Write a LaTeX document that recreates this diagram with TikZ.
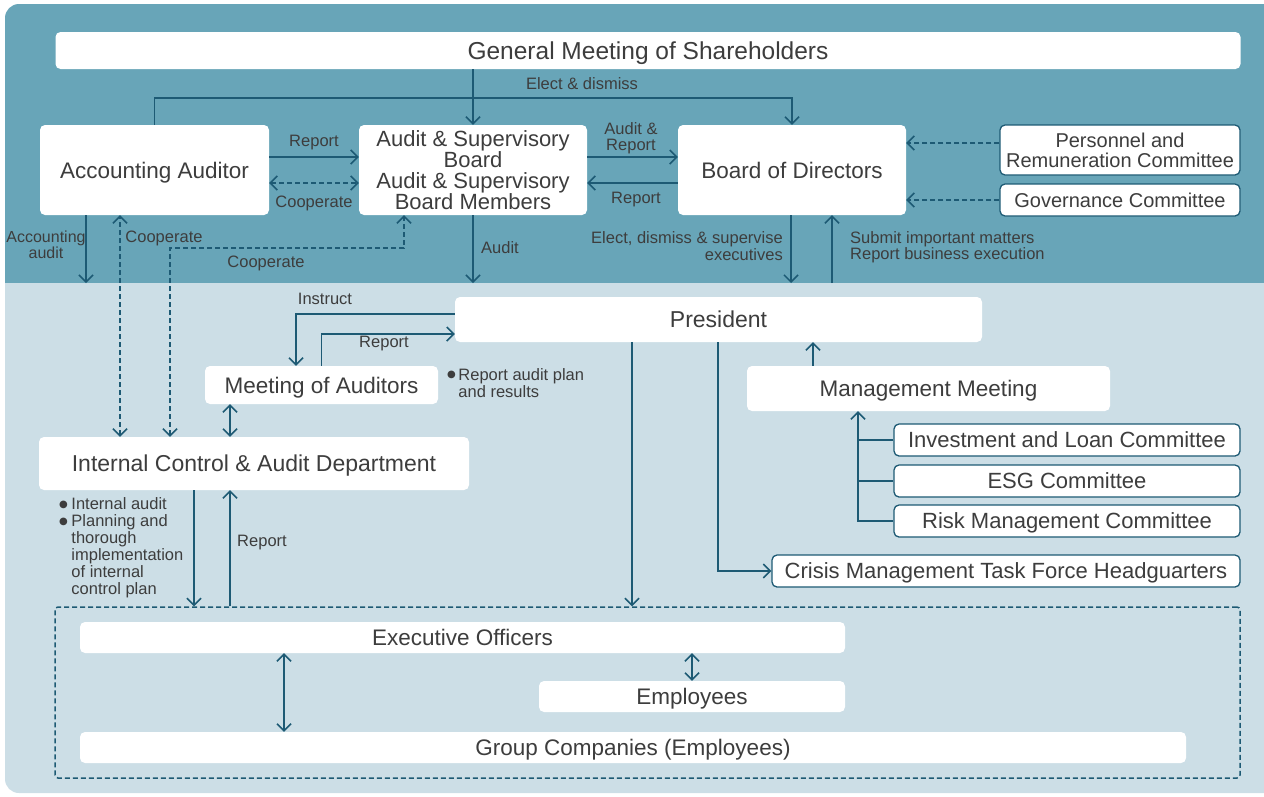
\documentclass[tikz,border=0pt]{standalone}
\usepackage{fontspec}
\setmainfont{Liberation Sans}
\newfontfamily\dejavu{DejaVu Sans}
\usetikzlibrary{arrows.meta}
\definecolor{topbg}{HTML}{68A5B8}
\definecolor{lowbg}{HTML}{CCDEE6}
\definecolor{lc}{HTML}{1D5A74}
\definecolor{tc}{HTML}{3D3D3D}
\newcommand{\bul}{\raisebox{2.5pt}{\dejavu\fontsize{10}{10}\selectfont ●}}
\begin{document}
\begin{tikzpicture}[x=1pt,y=-1pt,
  box/.style={fill=white, rounded corners=5pt, inner sep=0pt, align=center, text=tc, text depth=0pt, font=\fontsize{22.5}{20.5}\selectfont},
  cbox/.style={box, draw=lc, line width=1.3pt, font=\fontsize{22}{20.5}\selectfont},
  tcbox/.style={cbox, font=\fontsize{20}{20.5}\selectfont},
  lbl/.style={text=tc, font=\fontsize{16.5}{16.5}\selectfont, inner sep=0pt, align=center},
  ln/.style={draw=lc, line width=1.5pt},
  arr/.style={ln, -{Straight Barb[length=7pt,width=14pt]}},
  darr/.style={ln, {Straight Barb[length=7pt,width=14pt]}-{Straight Barb[length=7pt,width=14pt]}},
  dsh/.style={dash pattern=on 5pt off 3pt},
]
\useasboundingbox (0,0) rectangle (1264,796);
% backgrounds
\fill[topbg] (1264,284) -- (5,284) -- (5,18) arc[start angle=180, end angle=270, radius=14] -- (1264,4) -- cycle;
\fill[lowbg] (1264,283) -- (5,283) -- (5,779) arc[start angle=180, end angle=90, radius=14] -- (1264,793) -- cycle;

% nodes top
\node[box, minimum width=1185, minimum height=37, font=\fontsize{24.5}{24}\selectfont] (GMS) at (648,50.5) {General Meeting of Shareholders};
\node[box, minimum width=229, minimum height=90] (AA) at (154.5,170) {Accounting Auditor};
\node[box, minimum width=228, minimum height=90, font=\fontsize{22}{20.5}\selectfont] (ASB) at (473,170) {Audit \& Supervisory\\Board\\Audit \& Supervisory\\Board Members};
\node[box, minimum width=228, minimum height=90] (BoD) at (792,170) {Board of Directors};
\node[tcbox, minimum width=240, minimum height=50] (PRC) at (1120,150) {Personnel and\\Remuneration Committee};
\node[tcbox, minimum width=240, minimum height=32] (GOV) at (1120,200) {Governance Committee};

% nodes lower
\node[box, minimum width=527, minimum height=45, font=\fontsize{23}{24}\selectfont] (Pres) at (718.5,319.5) {President};
\node[box, minimum width=233, minimum height=38] (MoA) at (321.5,385) {Meeting of Auditors};
\node[box, minimum width=430, minimum height=53, font=\fontsize{23}{24}\selectfont] (ICAD) at (254,463.5) {Internal Control \& Audit Department};
\node[box, minimum width=363, minimum height=45] (MM) at (928.5,388.5) {Management Meeting};
\node[cbox, minimum width=346, minimum height=32] (ILC) at (1067,440) {Investment and Loan Committee};
\node[cbox, minimum width=346, minimum height=32] (ESG) at (1067,481) {ESG Committee};
\node[cbox, minimum width=346, minimum height=32] (RMC) at (1067,521) {Risk Management Committee};
\node[cbox, minimum width=468, minimum height=32] (CMT) at (1006,571) {Crisis Management Task Force Headguarters};
\node[draw=lc, line width=1.5pt, dsh, rounded corners=3pt, minimum width=1185, minimum height=171, inner sep=0pt] (grp) at (647.5,692.5) {};
\node[box, minimum width=765, minimum height=31] (EO) at (462.5,637.5) {Executive Officers};
\node[box, minimum width=306, minimum height=31] (EMP) at (692,696.5) {Employees};
\node[box, minimum width=1106, minimum height=31] (GC) at (633,747.5) {Group Companies (Employees)};

% helper coordinates
\coordinate (bAA) at (86,283);
\coordinate (bASB) at (473,283);
\coordinate (bBoD) at (791,283);
\coordinate (bUp) at (832,283);
\coordinate (c1) at (120,0);
\coordinate (c2) at (170,248);
\coordinate (c3) at (404,248);
\coordinate (i1) at (296,0);
\coordinate (d1) at (230,0);
\coordinate (x1) at (194,0);
\coordinate (p1) at (632,0);
\coordinate (p2) at (718,0);
\coordinate (m1) at (813,0);
\coordinate (k1) at (858,0);
\coordinate (g1) at (284,0);

% top connectors
\draw[arr] (GMS.south -| ASB) -- (ASB.north);
\draw[arr] (AA.north) -- ++(0,-27) -| (BoD.north);
\draw[arr] ([yshift=13pt]AA.east) -- ([yshift=13pt]ASB.west);
\draw[darr, dsh] ([yshift=-13pt]AA.east) -- ([yshift=-13pt]ASB.west);
\draw[arr] ([yshift=13pt]ASB.east) -- ([yshift=13pt]BoD.west);
\draw[arr] ([yshift=-13pt]BoD.west) -- ([yshift=-13pt]ASB.east);
\draw[arr, dsh] ([yshift=7pt]PRC.west) -- ([yshift=7pt]PRC.west -| BoD.east);
\draw[arr, dsh] (GOV.west) -- (GOV.west -| BoD.east);
\draw[arr] (AA.south -| bAA) -- (bAA);
\draw[arr] (ASB.south) -- (bASB);
\draw[arr] (BoD.south -| bBoD) -- (bBoD);
\draw[arr] (bUp) -- (BoD.south -| bUp);
\draw[darr, dsh] (ICAD.north -| c1) -- (AA.south -| c1);
\draw[darr, dsh] (ICAD.north -| c2) -- (c2) -- (c3) -- (ASB.south -| c3);

% lower connectors
\draw[arr] ([yshift=5.5pt]Pres.west) -| (MoA.north -| i1);
\draw[arr] (MoA.north) |- ([yshift=-14.5pt]Pres.west);
\draw[darr] (MoA.south -| d1) -- (ICAD.north -| d1);
\draw[arr] (ICAD.south -| x1) -- (grp.north -| x1);
\draw[arr] (grp.north -| d1) -- (ICAD.south -| d1);
\draw[arr] (Pres.south -| p1) -- (grp.north -| p1);
\draw[arr] (Pres.south -| p2) |- (CMT.west);
\draw[arr] (MM.north -| m1) -- (Pres.south -| m1);
\draw[arr] (RMC.west) -| (MM.south -| k1);
\draw[ln] (ILC.west) -- (ILC.west -| k1);
\draw[ln] (ESG.west) -- (ESG.west -| k1);
\draw[darr] (EO.south -| g1) -- (GC.north -| g1);
\draw[darr] (EO.south -| EMP) -- (EMP.north);

% labels
\node[lbl] (l1) at (582,84) {Elect \& dismiss};
\node[lbl] (l2) at (314,143) {Report};
\node[lbl] (l3) at (314,203) {Cooperate};
\node[lbl] (l4) at (631,138) {Audit \&\\Report};
\node[lbl] (l5) at (636,200) {Report};
\node[lbl, font=\fontsize{16}{16}\selectfont] (l6) at (46,245) {Accounting\\audit};
\node[lbl] (l7) at (164,238) {Cooperate};
\node[lbl] (l8) at (266,263) {Cooperate};
\node[lbl] (l9) at (500,248) {Audit};
\node[lbl, align=right, anchor=east] (l10) at (783,246) {Elect, dismiss \& supervise\\executives};
\node[lbl, align=left, anchor=west] (l11) at (850,247) {Submit important matters\\Report business execution};
\node[lbl] (l12) at (325,299) {Instruct};
\node[lbl] (l13) at (384,344) {Report};
\node[lbl, align=left, anchor=north west] (l14) at (447,368) {\begin{tabular}{@{}l@{\hspace{2.5pt}}l@{}}\bul & Report audit plan\\ & and results\end{tabular}};
\node[lbl, align=left, anchor=north west] (l15) at (59,497.5) {\begin{tabular}{@{}l@{\hspace{3.5pt}}l@{}}\bul & Internal audit\\ \bul & Planning and\\ & thorough\\ & implementation\\ & of internal\\ & control plan\end{tabular}};
\node[lbl] (l16) at (262,543) {Report};
\end{tikzpicture}
\end{document}
